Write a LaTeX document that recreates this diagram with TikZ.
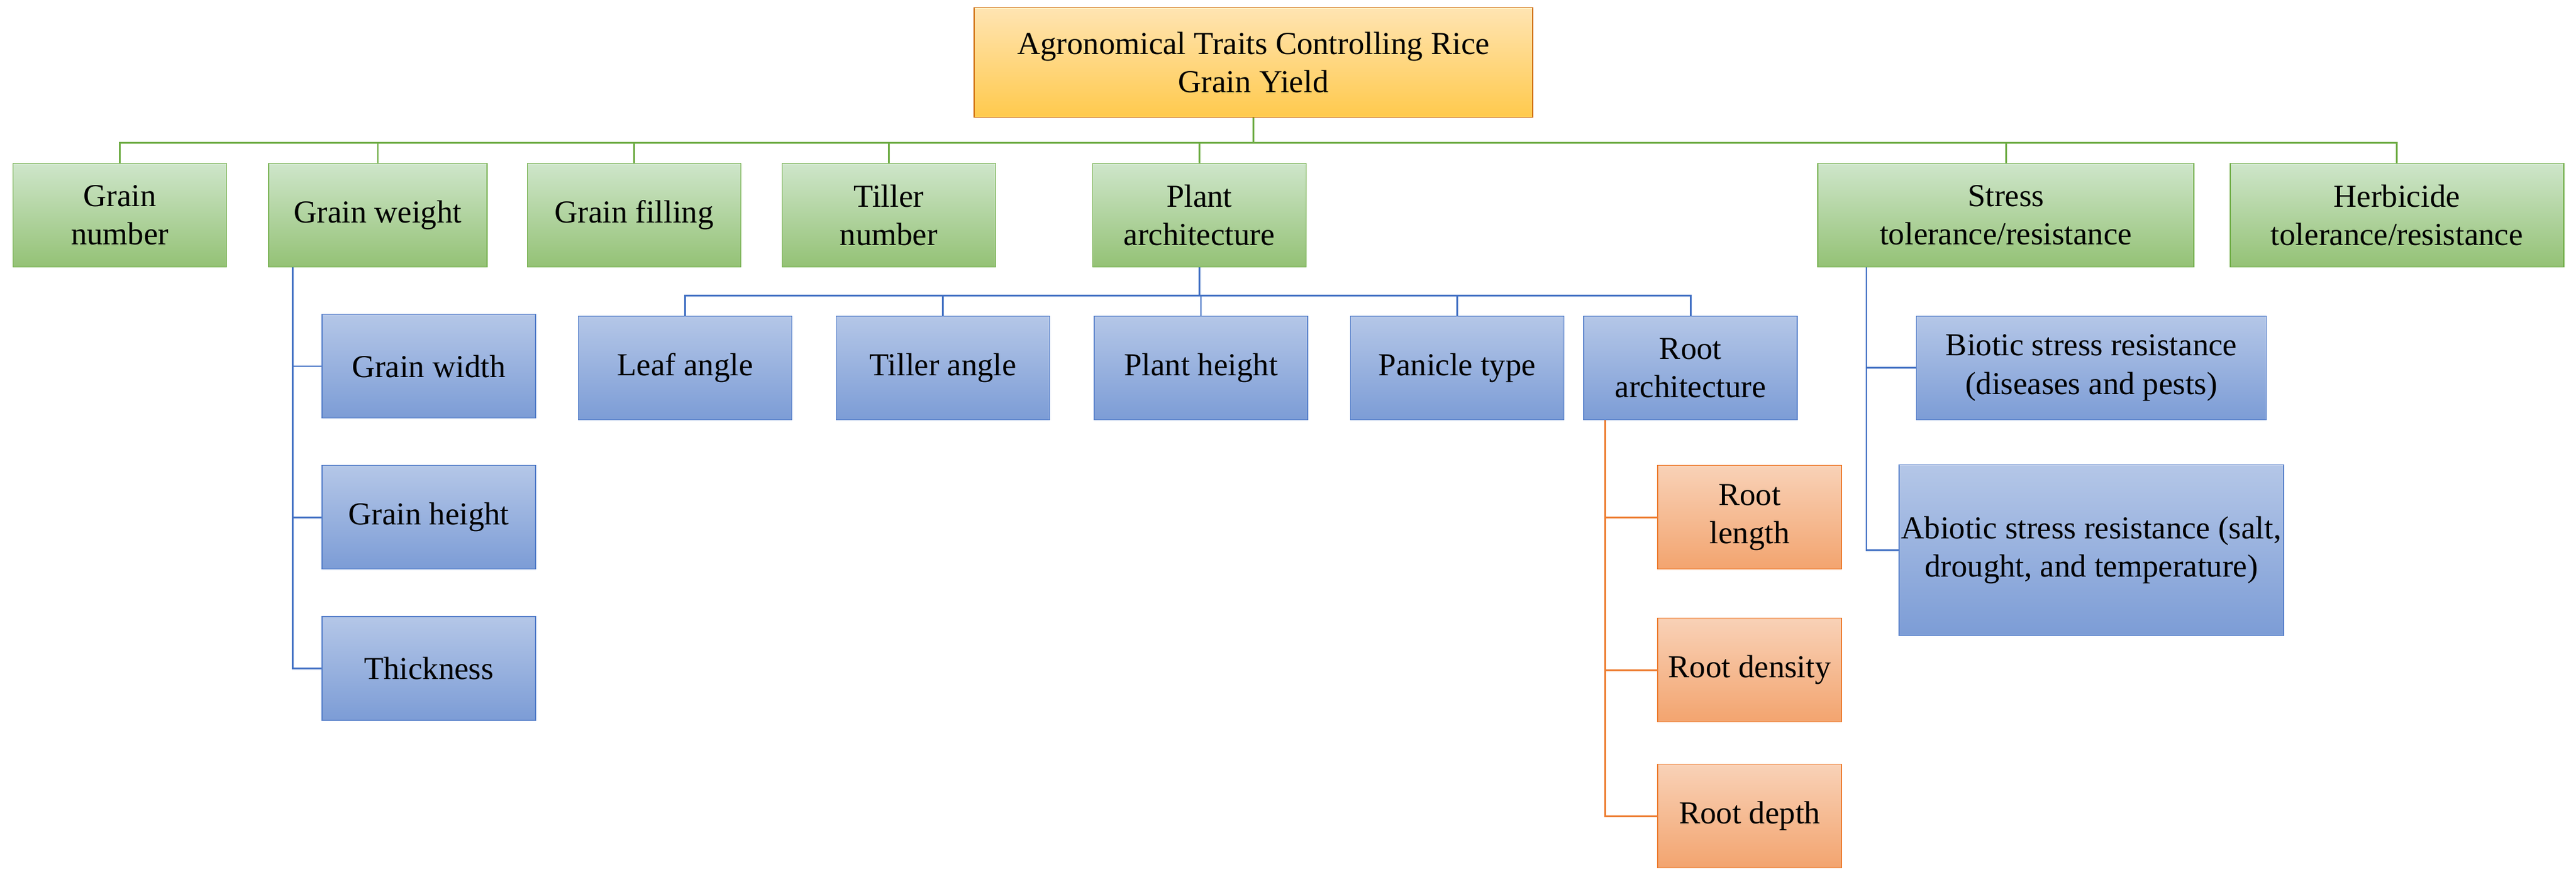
\documentclass[tikz,border=0pt]{standalone}
\usepackage{fontspec}
\setmainfont{Liberation Serif}
\usetikzlibrary{positioning}

\definecolor{gline}{HTML}{70AD47}
\definecolor{bline}{HTML}{4472C4}
\definecolor{oline}{HTML}{ED7D31}

\begin{document}
\begin{tikzpicture}[x=0.02709cm, y=-0.02709cm, font=\fontsize{15}{18}\selectfont]
\tikzset{
    box/.style={rectangle, draw, thin, align=center, inner sep=1pt, minimum height=1.71cm},
    topbox/.style={box, draw=orange!80!black, top color=yellow!30!orange!30, bottom color=orange!60!yellow!70, minimum width=9.21cm, minimum height=1.81cm},
    greenbox/.style={box, draw=gline, top color=green!50!black!15!white!90!gline, bottom color=gline!75, minimum width=3.52cm},
    bluebox/.style={box, draw=bline!90, top color=bline!40, bottom color=bline!70, minimum width=3.52cm},
    orangebox/.style={box, draw=oline, top color=oline!35, bottom color=oline!70, minimum width=3.03cm},
    gl/.style={draw=gline, thick},
    bl/.style={draw=bline, thick},
    ol/.style={draw=oline, thick}
}
\useasboundingbox (0,0) rectangle (1568,540);

% top and first level
\node[topbox] (top) at (763,38) {Agronomical Traits Controlling Rice\\Grain Yield};
\node[greenbox] (gnum) at (73,131) {Grain\\number};
\node[greenbox, minimum width=3.6cm] (gwt) at (230,131) {Grain weight};
\node[greenbox] (gfill) at (386,131) {Grain filling};
\node[greenbox] (till) at (541,131) {Tiller\\number};
\node[greenbox] (parch) at (730,131) {Plant\\architecture};
\node[greenbox, minimum width=6.2cm] (stress) at (1221,131) {Stress\\tolerance/resistance};
\node[greenbox, minimum width=5.5cm] (herb) at (1459,131) {Herbicide\\tolerance/resistance};

% grain weight
\node[bluebox] (gwidth) at (261,223) {Grain width};
\node[bluebox] (gheight) at (261,315) {Grain height};
\node[bluebox] (thick) at (261,407) {Thickness};

% plant architecture
\node[bluebox] (leaf) at (417,224) {Leaf angle};
\node[bluebox] (tang) at (574,224) {Tiller angle};
\node[bluebox] (phgt) at (731,224) {Plant height};
\node[bluebox] (pan) at (887,224) {Panicle type};
\node[bluebox] (rarch) at (1029,224) {Root\\architecture};

% root architecture
\node[orangebox] (rlen) at (1065,315) {Root\\length};
\node[orangebox] (rden) at (1065,408) {Root density};
\node[orangebox] (rdep) at (1065,497) {Root depth};

% stress
\node[bluebox, minimum width=5.77cm] (biot) at (1273,224) {Biotic stress resistance\\(diseases and pests)};
\node[bluebox, minimum width=5.77cm, minimum height=2.82cm] (abiot) at (1273,335) {Abiotic stress resistance (salt,\\drought, and temperature)};

\coordinate (bus) at (0,87);
\coordinate (pbus) at (0,180);
\coordinate (gwx) at (178,0);
\coordinate (rx) at (977,0);
\coordinate (sx) at (1136,0);

\draw[gl] (top.south) -- (top.south |- bus);
\foreach \n in {gnum,gwt,gfill,till,parch,stress,herb}
    \draw[gl] (top.south |- bus) -| (\n.north);

\foreach \n in {gwidth,gheight,thick}
    \draw[bl] (gwt.south -| gwx) |- (\n.west);

\draw[bl] (parch.south) -- (parch.south |- pbus);
\foreach \n in {leaf,tang,phgt,pan,rarch}
    \draw[bl] (parch.south |- pbus) -| (\n.north);

\foreach \n in {rlen,rden,rdep}
    \draw[ol] (rarch.south -| rx) |- (\n.west);

\foreach \n in {biot,abiot}
    \draw[bl] (stress.south -| sx) |- (\n.west);
\end{tikzpicture}
\end{document}
